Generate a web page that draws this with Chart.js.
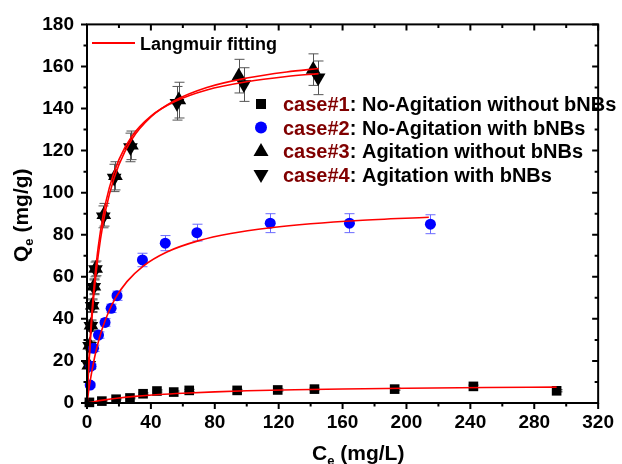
<!DOCTYPE html>
<html>
<head>
<meta charset="utf-8">
<script src="https://cdn.jsdelivr.net/npm/chart.js@4.4.0/dist/chart.umd.min.js"></script>
<style>
  body { margin: 0; background: #fff; }
  #wrap { width: 622px; height: 464px; }
</style>
</head>
<body>
<div id="wrap"><canvas id="myChart" width="622" height="464"></canvas></div>
<script>
// values
const case1X = [1.5, 9.3, 18.2, 26.9, 35.1, 43.8, 54.3, 64, 94, 119.4, 142.4, 192.6, 241.9, 294]
const case1Y = [0.3, 0.9, 1.8, 2.4, 4.4, 5.7, 5.2, 6.0, 6.0, 6.2, 6.6, 6.6, 7.9, 5.8]
const case1Err = [0.2, 0.3, 0.3, 0.4, 0.4, 0.5, 0.5, 0.5, 0.5, 0.5, 0.5, 0.5, 0.6, 0.5]

const case2X = [2.0, 2.5, 4.1, 7.2, 11.3, 15.1, 18.8, 34.7, 49, 68.8, 114.7, 164.3, 215]
const case2Y = [8.5, 17.5, 26, 32.3, 38.3, 45, 51, 68, 76, 81, 85.5, 85.5, 85]
const case2Err = [1, 1, 1.5, 1.5, 1.8, 2, 2.2, 3.2, 3.6, 4, 4.5, 4.5, 4.5]

const case3X = [1.1, 1.7, 2.5, 3.3, 4.3, 5.4, 10.5, 17.8, 27.8, 57.5, 95, 141.6]
const case3Y = [18, 27.5, 37, 46.5, 55.5, 64, 89.5, 108, 122.5, 144, 155.4, 158.5]
const case3Err = [1.5, 2, 2.5, 3, 3.5, 3.5, 5.4, 6.7, 6.8, 8.5, 8, 7.5]

const case4X = [1.1, 1.6, 2.4, 3.2, 4.2, 5.3, 10.2, 17.0, 27.2, 56.3, 98.2, 144.7]
const case4Y = [18, 27, 36.5, 46, 55, 63.5, 88.5, 107, 121.5, 142.5, 151.4, 154.6]
const case4Err = [1.5, 2, 2.5, 3, 3.5, 3.5, 5.2, 6.5, 6.8, 8, 8, 8]

// Langmuir fitting curves
const fit1X = [0, 5, 10, 20, 30, 45, 60, 80, 100, 130, 160, 200, 250, 294]
const fit1Y = [0, 0.74, 1.37, 2.38, 3.16, 4.03, 4.67, 5.31, 5.79, 6.31, 6.68, 7.04, 7.36, 7.57]
const fit2X = [0, 1, 2, 4, 6, 8, 10, 14, 18, 25, 35, 50, 70, 90, 115, 140, 170, 214]
const fit2Y = [0, 5.55, 10.5, 18.9, 25.8, 31.5, 36.4, 44.1, 50.1, 57.7, 65.0, 71.8, 77.2, 80.6, 83.3, 85.2, 86.8, 88.3]
const fit3X = [0, 0.5, 1, 2, 3, 4, 5, 7, 10, 14, 20, 28, 40, 55, 75, 100, 125, 145]
const fit3Y = [0, 9.0, 17.1, 31.0, 42.6, 52.3, 60.6, 74.0, 88.8, 102.4, 115.7, 126.7, 136.4, 143.3, 148.8, 152.7, 155.2, 156.6]
const fit4X = [0, 0.5, 1, 2, 3, 4, 5, 7, 10, 14, 20, 28, 40, 55, 75, 100, 125, 145]
const fit4Y = [0, 8.1, 15.5, 28.3, 39.2, 48.6, 56.7, 70, 85, 99.2, 113.3, 125.3, 136, 143.8, 150, 154.5, 157.4, 159.0]

const legendNames = ['case#1', 'case#2', 'case#3', 'case#4']
const legendTexts = [': No-Agitation without bNBs', ': No-Agitation with bNBs', ': Agitation without bNBs', ': Agitation with bNBs']

const xTicks = [0, 40, 80, 120, 160, 200, 240, 280, 320]
const yTicks = [0, 20, 40, 60, 80, 100, 120, 140, 160, 180]

const FONT = '"Liberation Sans", Arial, sans-serif'

function pts(xs, ys) {
  return xs.map((x, i) => ({ x: x, y: ys[i] }))
}

function fitLine(xs, ys) {
  return {
    type: 'line', data: pts(xs, ys), borderColor: '#ff0000', borderWidth: 1.6,
    pointRadius: 0, cubicInterpolationMode: 'monotone', fill: false, order: 0
  }
}

// error bars behind markers
const errorBars = {
  id: 'errorBars',
  beforeDatasetsDraw(chart) {
    let ctx = chart.ctx
    let xs = chart.scales.x, ys = chart.scales.y
    chart.data.datasets.forEach((ds) => {
      if (!ds.errs) return
      ctx.save()
      ctx.strokeStyle = ds.errColor
      ctx.lineWidth = 1
      ds.data.forEach((p, i) => {
        let e = ds.errs[i]
        let px = Math.round(xs.getPixelForValue(p.x)) + 0.5
        let top = ys.getPixelForValue(p.y + e)
        let bot = ys.getPixelForValue(p.y - e)
        ctx.beginPath()
        ctx.moveTo(px, top); ctx.lineTo(px, bot)
        ctx.moveTo(px - 5, top); ctx.lineTo(px + 5, top)
        ctx.moveTo(px - 5, bot); ctx.lineTo(px + 5, bot)
        ctx.stroke()
      })
      ctx.restore()
    })
  }
}

function marker(ctx, shape, x, y) {
  ctx.beginPath()
  if (shape == 'rect') {
    ctx.rect(x - 5, y - 5, 10, 10)
  } else if (shape == 'circle') {
    ctx.arc(x, y, 6, 0, Math.PI * 2)
  } else if (shape == 'up') {
    ctx.moveTo(x, y - 8); ctx.lineTo(x + 7.5, y + 5); ctx.lineTo(x - 7.5, y + 5); ctx.closePath()
  } else {
    ctx.moveTo(x, y + 8); ctx.lineTo(x + 7.5, y - 5); ctx.lineTo(x - 7.5, y - 5); ctx.closePath()
  }
  ctx.fill()
}

// frame, ticks, axis titles and legend
const decor = {
  id: 'decor',
  afterDraw(chart) {
    let ctx = chart.ctx
    let a = chart.chartArea
    let xs = chart.scales.x, ys = chart.scales.y
    ctx.save()
    ctx.strokeStyle = '#000'
    ctx.lineWidth = 2
    ctx.strokeRect(a.left, a.top, a.right - a.left, a.bottom - a.top)

    ctx.beginPath()
    for (let v = 0; v <= 320; v += 20) {
      let px = xs.getPixelForValue(v)
      let len = v % 40 == 0 ? 6 : 3.5
      ctx.moveTo(px, a.bottom); ctx.lineTo(px, a.bottom + len)
      ctx.moveTo(px, a.top); ctx.lineTo(px, a.top + len)
    }
    for (let v = 0; v <= 180; v += 10) {
      let py = ys.getPixelForValue(v)
      let len = v % 20 == 0 ? 6 : 3.5
      ctx.moveTo(a.left, py); ctx.lineTo(a.left - len, py)
      ctx.moveTo(a.right, py); ctx.lineTo(a.right - len, py)
    }
    ctx.stroke()

    // axis titles
    ctx.fillStyle = '#000'
    ctx.textBaseline = 'alphabetic'
    ctx.textAlign = 'left'
    let big = 'bold 21px ' + FONT, small = 'bold 13px ' + FONT
    // x title
    let x0 = 312
    ctx.font = big; ctx.fillText('C', x0, 460)
    let w = ctx.measureText('C').width
    ctx.font = small; ctx.fillText('e', x0 + w, 465)
    let w2 = ctx.measureText('e').width
    ctx.font = big; ctx.fillText(' (mg/L)', x0 + w + w2, 460)

    // y title
    ctx.save()
    ctx.translate(28, 262)
    ctx.rotate(-Math.PI / 2)
    ctx.font = big; ctx.fillText('Q', 0, 0)
    w = ctx.measureText('Q').width
    ctx.font = small; ctx.fillText('e', w, 5)
    w2 = ctx.measureText('e').width
    ctx.font = big; ctx.fillText(' (mg/g)', w + w2, 0)
    ctx.restore()

    // legend
    ctx.strokeStyle = '#ff0000'
    ctx.lineWidth = 2
    ctx.beginPath(); ctx.moveTo(92, 43); ctx.lineTo(135, 43); ctx.stroke()
    ctx.font = 'bold 18px ' + FONT
    ctx.fillText('Langmuir fitting', 140, 50)

    let shapes = ['rect', 'circle', 'up', 'down']
    let colors = ['#000', '#0000ff', '#000', '#000']
    let rows = [104, 127.5, 151, 175]
    ctx.font = 'bold 20px ' + FONT
    legendNames.forEach((n, i) => {
      ctx.fillStyle = colors[i]
      marker(ctx, shapes[i], 261, rows[i])
      ctx.fillStyle = '#800000'
      ctx.fillText(n, 283, rows[i] + 7)
      let nw = ctx.measureText(n).width
      ctx.fillStyle = '#000'
      ctx.fillText(legendTexts[i], 283 + nw, rows[i] + 7)
    })
    ctx.restore()
  }
}

let ctx = document.getElementById('myChart').getContext('2d')
let myChart = new Chart(ctx, {
  type: 'scatter',
  data: {
    datasets: [
      fitLine(fit1X, fit1Y),
      fitLine(fit2X, fit2Y),
      fitLine(fit3X, fit3Y),
      fitLine(fit4X, fit4Y),
      { label: 'case#1', data: pts(case1X, case1Y), errs: case1Err, errColor: '#333',
        pointStyle: 'rect', pointRadius: 6.8, backgroundColor: '#000', borderWidth: 0, order: 1, clip: false },
      { label: 'case#2', data: pts(case2X, case2Y), errs: case2Err, errColor: '#6b6bff',
        pointStyle: 'circle', pointRadius: 5.5, backgroundColor: '#0000ff', borderWidth: 0, order: 1, clip: false },
      { label: 'case#3', data: pts(case3X, case3Y), errs: case3Err, errColor: '#555',
        pointStyle: 'triangle', pointRadius: 8.5, backgroundColor: '#000', borderWidth: 0, order: 1, clip: false },
      { label: 'case#4', data: pts(case4X, case4Y), errs: case4Err, errColor: '#555',
        pointStyle: 'triangle', rotation: 180, pointRadius: 8.5, backgroundColor: '#000', borderWidth: 0, order: 1, clip: false }
    ]
  },
  options: {
    responsive: false,
    animation: false,
    layout: { padding: { left: 0, right: 20, top: 23, bottom: 0 } },
    plugins: { legend: { display: false }, tooltip: { enabled: false } },
    scales: {
      x: {
        type: 'linear', min: 0, max: 320,
        afterBuildTicks: (s) => { s.ticks = xTicks.map(v => ({ value: v })) },
        afterFit: (s) => { s.height = 61 },
        grid: { display: false, drawTicks: false },
        border: { display: false },
        ticks: { color: '#000', padding: 8, maxRotation: 0, font: { family: FONT, size: 19, weight: 'bold' } }
      },
      y: {
        type: 'linear', min: 0, max: 180,
        afterBuildTicks: (s) => { s.ticks = yTicks.map(v => ({ value: v })) },
        afterFit: (s) => { s.width = 87 },
        grid: { display: false, drawTicks: false },
        border: { display: false },
        ticks: { color: '#000', padding: 13, font: { family: FONT, size: 19, weight: 'bold' } }
      }
    }
  },
  plugins: [errorBars, decor]
})
</script>
</body>
</html>
